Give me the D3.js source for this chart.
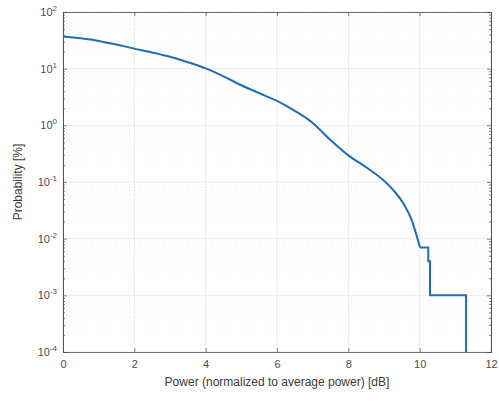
<!DOCTYPE html>
<html>
<head>
<meta charset="utf-8">
<script src="https://cdn.jsdelivr.net/npm/d3@7"></script>
<style>
  body { margin: 0; background: #fff; }
  text { font-family: "Liberation Sans", Arial, sans-serif; }
</style>
</head>
<body>
<svg width="499" height="401"></svg>
<script>
// values (power in dB, probability in %)
var powerDb = [0, 0.5, 1, 1.5, 2, 2.5, 3, 3.5, 4, 4.5, 5, 5.5, 6, 6.5, 7, 7.5, 8, 8.5, 9, 9.26, 9.54, 9.78, 9.92, 10.01];
var probPct = [37, 34.3, 30.9, 26.6, 22.6, 19.3, 16.2, 13.0, 10.1, 7.3, 5.1, 3.7, 2.7, 1.8, 1.1, 0.55, 0.295, 0.182, 0.105, 0.072, 0.042, 0.021, 0.011, 0.007];
// last few samples: a staircase of single events
var stepDb = [10.01, 10.24, 10.24, 10.29, 10.29, 11.3, 11.3];
var stepPct = [0.007, 0.007, 0.004, 0.004, 0.001, 0.001, 0.0001];
var xTicks = [0, 2, 4, 6, 8, 10, 12];
var yExps = [-4, -3, -2, -1, 0, 1, 2];

var svg = d3.select("svg"),
    margin = {left: 63, right: 8, top: 12, bottom: 49},
    width = 499 - margin.left - margin.right,
    height = 401 - margin.top - margin.bottom;

var x = d3.scaleLinear().domain([0, 12]).range([0, width]),
    y = d3.scaleLog().domain([1e-4, 1e2]).range([height, 0]);

var g = svg.append("g")
    .attr("transform", "translate(" + margin.left + "," + margin.top + ")");

// minor y values
var minor = [];
yExps.slice(0, -1).forEach(function(e) {
    for (var k = 2; k < 10; k++) minor.push(k * Math.pow(10, e));
});

// grid
g.selectAll(".ymin").data(minor).enter().append("line")
    .attr("x1", 0).attr("x2", width)
    .attr("y1", function(d) { return y(d); }).attr("y2", function(d) { return y(d); })
    .attr("stroke", "#ececec").attr("stroke-width", 0.6).attr("stroke-dasharray", "1,2");
g.selectAll(".xg").data(xTicks).enter().append("line")
    .attr("x1", function(d) { return x(d); }).attr("x2", function(d) { return x(d); })
    .attr("y1", 0).attr("y2", height)
    .attr("stroke", "#e2e2e2").attr("stroke-width", 0.7);
g.selectAll(".yg").data(yExps).enter().append("line")
    .attr("x1", 0).attr("x2", width)
    .attr("y1", function(d) { return y(Math.pow(10, d)); }).attr("y2", function(d) { return y(Math.pow(10, d)); })
    .attr("stroke", "#e2e2e2").attr("stroke-width", 0.7);

// axes
var axCol = "#4d4d4d";
var decades = yExps.map(function(e) { return Math.pow(10, e); });
var xa = g.append("g").attr("transform", "translate(0," + height + ")")
    .call(d3.axisBottom(x).tickValues(xTicks).tickSize(-4).tickPadding(8));
g.append("g").call(d3.axisTop(x).tickValues(xTicks).tickSize(-4).tickFormat(""));
g.append("g").call(d3.axisLeft(y).tickValues(decades).tickSize(-4).tickFormat(""));
g.append("g").attr("transform", "translate(" + width + ",0)")
    .call(d3.axisRight(y).tickValues(decades).tickSize(-4).tickFormat(""));
g.append("g").call(d3.axisLeft(y).tickValues(minor).tickSize(-2).tickFormat(""));
g.append("g").attr("transform", "translate(" + width + ",0)")
    .call(d3.axisRight(y).tickValues(minor).tickSize(-2).tickFormat(""));

g.selectAll(".domain").attr("stroke", axCol).attr("stroke-width", 0.8);
g.selectAll(".tick line").attr("stroke", axCol).attr("stroke-width", 0.7);
xa.selectAll("text").attr("font-size", "11px").attr("fill", "#4d4d4d");

// y tick labels with superscripts
var yl = g.selectAll(".ylab").data(yExps).enter().append("text")
    .attr("x", -6)
    .attr("y", function(d) { return y(Math.pow(10, d)) + 4; })
    .attr("text-anchor", "end")
    .attr("font-size", "11px")
    .attr("fill", "#4d4d4d");
yl.append("tspan").text("10");
yl.append("tspan").attr("dy", -5).attr("font-size", "8px").text(function(d) { return d; });

// curve: smooth part and staircase tail
var smooth = d3.line()
    .x(function(d, i) { return x(powerDb[i]); })
    .y(function(d) { return y(d); })
    .curve(d3.curveMonotoneX);
var stairs = d3.line()
    .x(function(d, i) { return x(stepDb[i]); })
    .y(function(d) { return y(Math.max(d, 1e-4)); });
g.append("path")
    .datum(probPct)
    .attr("fill", "none")
    .attr("stroke", "#1f6db3")
    .attr("stroke-width", 2)
    .attr("d", smooth);
g.append("path")
    .datum(stepPct)
    .attr("fill", "none")
    .attr("stroke", "#1f6db3")
    .attr("stroke-width", 2)
    .attr("d", stairs);

// labels
svg.append("text")
    .attr("x", margin.left + width / 2)
    .attr("y", 386)
    .attr("text-anchor", "middle")
    .attr("font-size", "12px")
    .attr("fill", "#3a3a3a")
    .text("Power (normalized to average power) [dB]");
svg.append("text")
    .attr("transform", "translate(22," + (margin.top + height / 2) + ") rotate(-90)")
    .attr("text-anchor", "middle")
    .attr("font-size", "12px")
    .attr("fill", "#3a3a3a")
    .text("Probability [%]");
</script>
</body>
</html>
